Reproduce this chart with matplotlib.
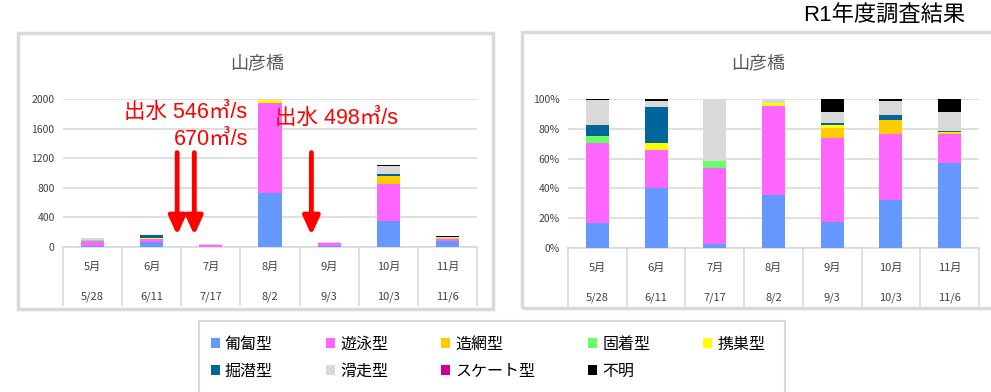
import numpy as np
import matplotlib.pyplot as plt
from matplotlib.patches import Rectangle
from matplotlib.transforms import blended_transform_factory

plt.rcParams['font.family'] = ['Noto Sans CJK JP', 'DejaVu Sans']

# data (individuals per survey)
months = ['5月', '6月', '7月', '8月', '9月', '10月', '11月']
dates = ['5/28', '6/11', '7/17', '8/2', '9/3', '10/3', '11/6']
types = ['匍匐型', '遊泳型', '造網型', '固着型', '携巣型', '掘潜型', '滑走型', 'スケート型', '不明']
colors = ['#6699FF', '#FF66FF', '#FFCC00', '#66FF66', '#FFFF00', '#006699', '#D9D9D9', '#CC0099', '#000000']

hofuku = [20, 68, 1, 727, 12, 355, 85]
yuei = [65, 42, 21, 1225, 38, 498, 29]
zomo = [0, 0, 0, 0, 5, 104, 1]
kochaku = [5, 0, 2, 0, 0, 0, 0]
keiso = [0, 9, 0, 40, 1, 0, 1]
kussen = [9, 40, 0, 0, 1, 32, 1]
kasso = [20, 7, 17, 58, 5, 110, 19]
skate = [0, 0, 0, 0, 0, 0, 0]
fumei = [1, 2, 0, 0, 6, 11, 13]

counts = np.array([hofuku, yuei, zomo, kochaku, keiso, kussen, kasso, skate, fumei], dtype=float)
pct = counts / counts.sum(axis=0) * 100

fig = plt.figure(figsize=(9.91, 3.92), dpi=100)

# chart frames
fig.patches.append(Rectangle((0.0182, 0.2117), 0.4793, 0.704, transform=fig.transFigure,
                             fill=False, ec='#D9D9D9', lw=2.5))
fig.patches.append(Rectangle((0.5267, 0.2143), 0.48, 0.704, transform=fig.transFigure,
                             fill=False, ec='#D9D9D9', lw=2.5))
fig.patches.append(Rectangle((0.2008, -0.05), 0.591, 0.231, transform=fig.transFigure,
                             fill=False, ec='#D9D9D9', lw=1.5))

ax1 = fig.add_axes([0.0636, 0.3699, 0.4177, 0.3775])
ax2 = fig.add_axes([0.5732, 0.3673, 0.4147, 0.3800])

x = np.arange(len(months))
w = 0.39
handles = []
for ax, data in [(ax1, counts), (ax2, pct)]:
    bottom = np.zeros(len(months))
    for i in range(len(types)):
        b = ax.bar(x, data[i], w, bottom=bottom, color=colors[i], label=types[i], zorder=3)
        bottom += data[i]
        if ax is ax1:
            handles.append(b)
    ax.set_xlim(-0.5, len(months) - 0.5)
    ax.set_xticks([])
    for s in ['top', 'right', 'left']:
        ax.spines[s].set_visible(False)
    ax.spines['bottom'].set_color('#D9D9D9')
    ax.spines['bottom'].set_linewidth(1.2)
    ax.grid(axis='y', color='#D9D9D9', lw=1.2, zorder=0)
    ax.tick_params(axis='y', length=0, labelsize=7.5, labelcolor='#404040', pad=6)
    tr = blended_transform_factory(ax.transData, ax.transAxes)
    for b in np.arange(len(months) + 1) - 0.5:
        ax.plot([b, b], [0, -0.39], color='#D9D9D9', lw=1.2, transform=tr, clip_on=False)
    for i in range(len(months)):
        ax.text(i, -0.135, months[i], transform=tr, ha='center', va='center', fontsize=8, color='#404040')
        ax.text(i, -0.335, dates[i], transform=tr, ha='center', va='center', fontsize=8, color='#404040')

ax1.set_ylim(0, 2000)
ax1.set_yticks([0, 400, 800, 1200, 1600, 2000])
ax2.set_ylim(0, 100)
ax2.set_yticks([0, 20, 40, 60, 80, 100])
ax2.set_yticklabels(['0%', '20%', '40%', '60%', '80%', '100%'])

fig.text(0.259, 0.839, '山彦橋', ha='center', va='center', fontsize=13, color='#595959')
fig.text(0.765, 0.839, '山彦橋', ha='center', va='center', fontsize=13, color='#595959')
fig.text(0.892, 0.960, 'R1年度調査結果', ha='center', va='center', fontsize=16, color='black',
         family=['Liberation Sans', 'Noto Sans CJK JP'])

# flood annotations
red_font = ['Liberation Sans', 'Noto Sans CJK JP']
ax1.text(0.53, 1814, '出水 546㎥/s', color='red', fontsize=15.5, ha='left', va='center', family=red_font)
ax1.text(2.63, 1449, '670㎥/s', color='red', fontsize=15.5, ha='right', va='center', family=red_font)
ax1.text(3.09, 1733, '出水 498㎥/s', color='red', fontsize=15.5, ha='left', va='center', family=red_font)
for ax_x in [1.43, 1.72, 3.70]:
    ax1.annotate('', xy=(ax_x, 160), xytext=(ax_x, 1275),
                 arrowprops=dict(arrowstyle='-|>,head_width=0.5,head_length=1.1', color='red', lw=3.5,
                                 shrinkA=0, shrinkB=0), zorder=5)

order = [0, 5, 1, 6, 2, 7, 3, 8, 4]
fig.legend([handles[i] for i in order], [types[i] for i in order], ncol=5,
           loc='upper left', bbox_to_anchor=(0.206, 0.16), frameon=False,
           fontsize=11.5, handlelength=0.6, handleheight=0.6, handletextpad=0.3,
           columnspacing=3.3, labelspacing=0.62, borderaxespad=0)

fig.savefig('out.png', dpi=100)
